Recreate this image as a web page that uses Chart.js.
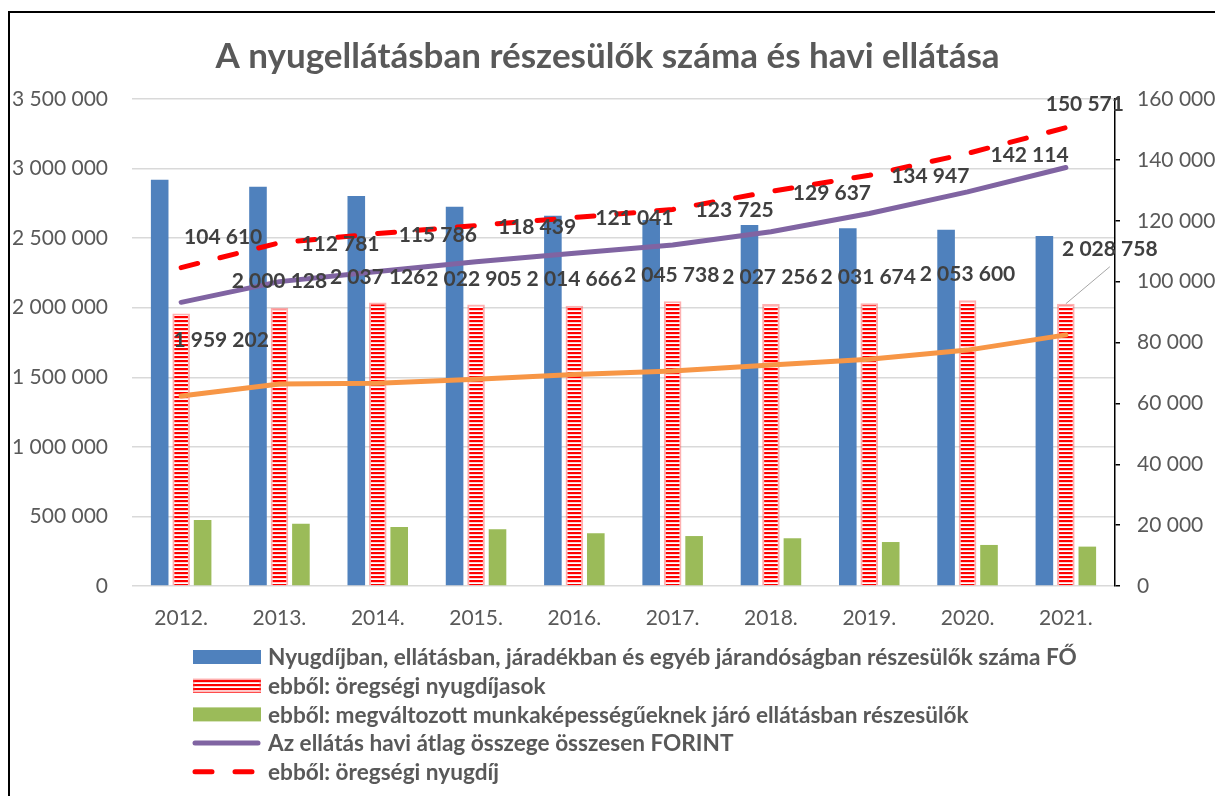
<!DOCTYPE html>
<html>
<head>
<meta charset="utf-8">
<title>Nyugellátás</title>
<script src="https://cdn.jsdelivr.net/npm/chart.js@4.4.1/dist/chart.umd.min.js"></script>
<style>
    html, body { margin: 0; padding: 0; background: #fff; }
    #wrap { width: 1215px; height: 796px; position: relative; }
</style>
</head>
<body>
<div id="wrap"><canvas id="nyugdijChart" width="1215" height="796"></canvas></div>
<script>
const evek = ['2012.', '2013.', '2014.', '2015.', '2016.', '2017.', '2018.', '2019.', '2020.', '2021.'];

// fő (bal tengely)
const osszesLetszam = [2920000, 2870000, 2803000, 2726000, 2661000, 2630000, 2594000, 2571000, 2561000, 2515000];
const oregsegiLetszam = [1959202, 2000128, 2037126, 2022905, 2014666, 2045738, 2027256, 2031674, 2053600, 2028758];
const megvaltozottLetszam = [474000, 448000, 424000, 407000, 379000, 359000, 343000, 316000, 295000, 283000];

// forint (jobb tengely)
const atlagOsszeg = [93200, 100000, 103300, 106500, 109300, 112000, 116400, 122400, 129500, 137500];
const oregsegiNyugdij = [104610, 112781, 115786, 118439, 121041, 123725, 129637, 134947, 142114, 150571];
const megvaltozottEllatas = [62400, 66400, 66600, 67900, 69500, 70600, 72600, 74500, 77500, 82500];

const balTengelyMax = 3500000;
const balTengelyLepes = 500000;
const jobbTengelyMax = 160000;
const jobbTengelyLepes = 20000;

const legendCimkek = [
    'Nyugdíjban, ellátásban, járadékban és egyéb járandóságban részesülők száma FŐ',
    'ebből: öregségi nyugdíjasok',
    'ebből: megváltozott munkaképességűeknek járó ellátásban részesülők',
    'Az ellátás havi átlag összege összesen FORINT',
    'ebből: öregségi nyugdíj'
];

// címke eltolások (px) a pont / oszlop tetejéhez képest
const oszlopCimkeEltolas = [[40, 27], [0, -26], [0, -25], [-2, -25], [0, -26], [-1, -26], [-1, -27], [-1, -26], [0, -26], [44, -54]];
const vonalCimkeEltolas = [[42, -30], [61, 2], [60, 2], [61, 2], [60, 1], [62, 1], [61, 2], [61, 1], [62, 2], [19, -23]];

const ezres = v => String(v).replace(/\B(?=(\d{3})+(?!\d))/g, ' ');

function csikosMinta() {
    const c = document.createElement('canvas');
    c.width = 4;
    c.height = 4;
    const g = c.getContext('2d');
    g.fillStyle = '#ffffff';
    g.fillRect(0, 0, 4, 4);
    g.fillStyle = '#ff0000';
    g.fillRect(0, 0, 4, 2);
    g.fillStyle = '#ffb0b0';
    g.fillRect(0, 2, 4, 0.6);
    return g.createPattern(c, 'repeat');
}
const minta = csikosMinta();

const kerettel = {
    id: 'keret',
    afterDraw(chart) {
        const ctx = chart.ctx;
        ctx.save();
        ctx.strokeStyle = '#000';
        ctx.lineWidth = 2;
        ctx.beginPath();
        ctx.moveTo(9, 800);
        ctx.lineTo(9, 12);
        ctx.lineTo(1220, 12);
        ctx.stroke();
        ctx.restore();
    }
};

const adatCimkek = {
    id: 'adatCimkek',
    afterDatasetsDraw(chart) {
        const ctx = chart.ctx;
        ctx.save();
        ctx.font = 'bold 21px Lato';
        ctx.fillStyle = '#404040';
        ctx.textAlign = 'center';
        ctx.textBaseline = 'middle';

        const oszlopok = chart.getDatasetMeta(1).data;
        oszlopok.forEach((el, i) => {
            const [dx, dy] = oszlopCimkeEltolas[i];
            if (i === oszlopok.length - 1) {
                ctx.save();
                ctx.strokeStyle = '#a6a6a6';
                ctx.lineWidth = 1;
                ctx.beginPath();
                ctx.moveTo(el.x, el.y);
                ctx.lineTo(el.x + dx, el.y + dy + 17);
                ctx.stroke();
                ctx.restore();
            }
            ctx.fillText(ezres(oregsegiLetszam[i]), el.x + dx, el.y + dy);
        });

        chart.getDatasetMeta(4).data.forEach((el, i) => {
            const [dx, dy] = vonalCimkeEltolas[i];
            ctx.fillText(ezres(oregsegiNyugdij[i]), el.x + dx, el.y + dy);
        });
        ctx.restore();
    }
};

const sajatLegend = {
    id: 'sajatLegend',
    afterDraw(chart) {
        const ctx = chart.ctx;
        const x0 = 193, x1 = 261, szovegX = 268;
        ctx.save();
        ctx.font = 'bold 22.6px Lato';
        ctx.fillStyle = '#595959';
        ctx.textBaseline = 'middle';
        legendCimkek.forEach((cimke, i) => {
            const y = 657 + i * 28.7;
            const ds = chart.data.datasets[i];
            if (ds.type === 'line') {
                ctx.save();
                ctx.strokeStyle = ds.borderColor;
                ctx.lineWidth = ds.borderWidth;
                ctx.lineCap = 'round';
                ctx.setLineDash(ds.borderDash || []);
                ctx.beginPath();
                ctx.moveTo(x0 + 2, y);
                ctx.lineTo(x1 - 3, y);
                ctx.stroke();
                ctx.restore();
            } else {
                ctx.save();
                ctx.fillStyle = ds.backgroundColor;
                ctx.fillRect(x0, y - 7, x1 - x0, 14);
                if (ds.borderWidth) {
                    ctx.strokeStyle = ds.borderColor;
                    ctx.lineWidth = 1.5;
                    ctx.strokeRect(x0 + 0.75, y - 6.25, x1 - x0 - 1.5, 12.5);
                }
                ctx.restore();
            }
            ctx.fillText(cimke, szovegX, y + 1);
        });
        ctx.restore();
    }
};

const ctx = document.getElementById('nyugdijChart');

new Chart(ctx, {
    type: 'bar',
    data: {
        labels: evek,
        datasets: [{
            type: 'bar',
            label: legendCimkek[0],
            data: osszesLetszam,
            backgroundColor: '#4f81bd',
            yAxisID: 'y',
            order: 2,
        }, {
            type: 'bar',
            label: legendCimkek[1],
            data: oregsegiLetszam,
            backgroundColor: minta,
            borderColor: 'rgba(255, 80, 80, 0.45)',
            borderWidth: 2,
            yAxisID: 'y',
            order: 2,
        }, {
            type: 'bar',
            label: legendCimkek[2],
            data: megvaltozottLetszam,
            backgroundColor: '#9bbb59',
            yAxisID: 'y',
            order: 2,
        }, {
            type: 'line',
            label: legendCimkek[3],
            data: atlagOsszeg,
            borderColor: '#8064a2',
            borderWidth: 5,
            borderCapStyle: 'round',
            borderJoinStyle: 'round',
            pointRadius: 0,
            tension: 0,
            yAxisID: 'y1',
            order: 1,
        }, {
            type: 'line',
            label: legendCimkek[4],
            data: oregsegiNyugdij,
            borderColor: '#ff0000',
            borderWidth: 5,
            borderDash: [17, 23],
            borderCapStyle: 'round',
            pointRadius: 0,
            tension: 0,
            yAxisID: 'y1',
            order: 1,
        }, {
            type: 'line',
            label: 'megváltozott munkaképességűek ellátása',
            data: megvaltozottEllatas,
            borderColor: '#f79646',
            borderWidth: 5,
            borderCapStyle: 'round',
            borderJoinStyle: 'round',
            pointRadius: 0,
            tension: 0,
            yAxisID: 'y1',
            order: 1,
        }]
    },
    options: {
        responsive: false,
        animation: false,
        categoryPercentage: 0.655,
        barPercentage: 0.82,
        layout: {
            padding: { top: 0, bottom: 0, left: 0, right: 0 }
        },
        plugins: {
            legend: { display: false },
            tooltip: { enabled: false },
            title: {
                display: true,
                text: 'A nyugellátásban részesülők száma és havi ellátása',
                color: '#595959',
                font: { family: 'Lato', size: 35, weight: 'bold', lineHeight: 1.2 },
                padding: { top: 36, bottom: 21 }
            }
        },
        scales: {
            x: {
                grid: { display: false },
                border: { display: false },
                ticks: {
                    color: '#595959',
                    font: { family: 'Lato', size: 21 },
                    padding: 12,
                    maxRotation: 0,
                },
                afterFit(scale) { scale.height = 210; }
            },
            y: {
                position: 'left',
                min: 0,
                max: balTengelyMax,
                ticks: {
                    stepSize: balTengelyLepes,
                    color: '#595959',
                    font: { family: 'Lato', size: 21 },
                    padding: 24,
                    callback: v => ezres(v)
                },
                grid: {
                    color: '#d9d9d9',
                    lineWidth: 1.5,
                    drawTicks: false
                },
                border: { display: false },
                afterFit(scale) { scale.width = 132; }
            },
            y1: {
                position: 'right',
                min: 0,
                max: jobbTengelyMax,
                ticks: {
                    stepSize: jobbTengelyLepes,
                    color: '#595959',
                    font: { family: 'Lato', size: 21 },
                    padding: 17,
                    callback: v => ezres(v)
                },
                grid: {
                    drawOnChartArea: false,
                    drawTicks: true,
                    tickLength: 5,
                    tickColor: '#000',
                    lineWidth: 1.5
                },
                border: { display: true, color: '#000', width: 1.5, dash: [3, 2] },
                afterFit(scale) { scale.width = 100; }
            }
        }
    },
    plugins: [adatCimkek, sajatLegend, kerettel]
});
</script>
</body>
</html>
